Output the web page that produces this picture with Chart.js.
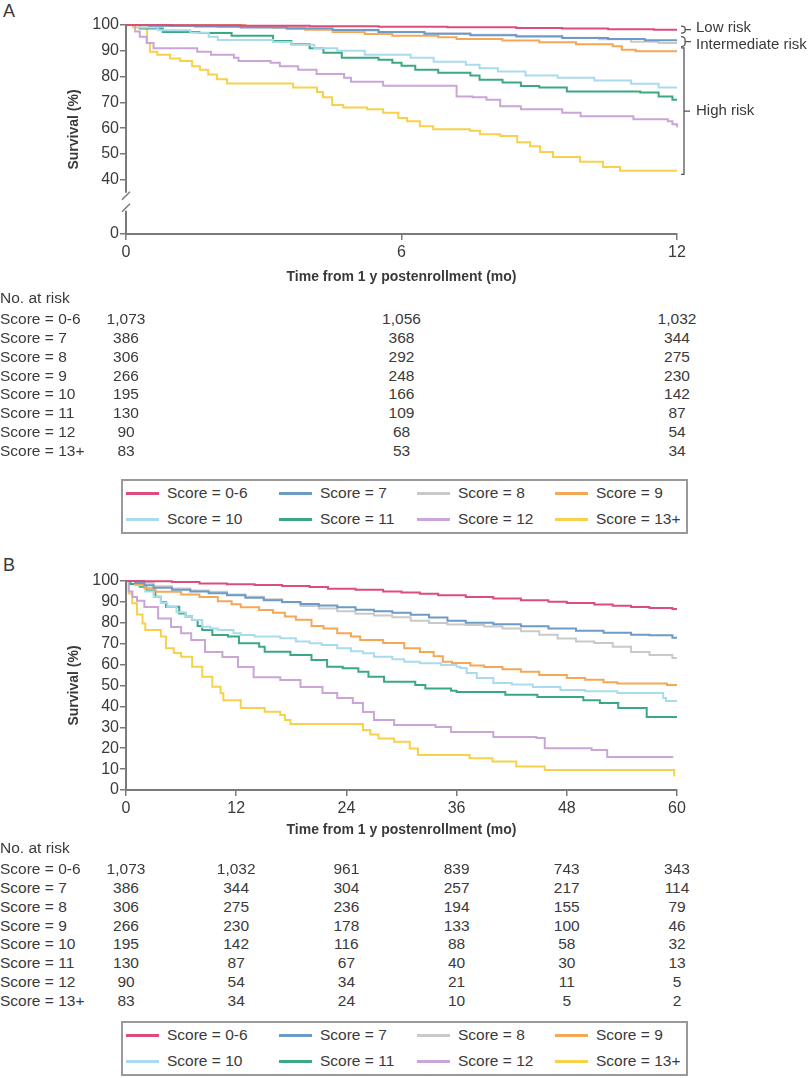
<!DOCTYPE html>
<html>
<head>
<meta charset="utf-8">
<script src="https://cdn.jsdelivr.net/npm/chart.js@4.4.1/dist/chart.umd.min.js"></script>
<style>
  body { margin: 0; width: 812px; height: 1078px; position: relative; background: #fff; overflow: hidden;
         font-family: 'Liberation Sans', Arial, sans-serif; color: #3a3a3a; }
  canvas { position: absolute; left: 0; }
  .tag { position: absolute; left: 3px; font-size: 18px; }
  .txt { position: absolute; font-size: 15.5px; line-height: 18px; white-space: nowrap; }
  .num { transform: translateX(-50%); }
  .legend { position: absolute; left: 121px; width: 563px; height: 51px; border: 2px solid #999; }
  .item { position: absolute; font-size: 15.5px; line-height: 18px; white-space: nowrap; }
  .item i { position: absolute; width: 33px; height: 3px; top: 8px; left: 0; }
  .item span { position: absolute; left: 41px; top: 0; }
</style>
</head>
<body>
<div class="tag" style="top:1px">A</div>
<canvas id="chartA" width="812" height="290" style="top:0"></canvas>
<div id="tableA"></div>
<div id="legendA" class="legend" style="top:479px"></div>

<div class="tag" style="top:555px">B</div>
<canvas id="chartB" width="812" height="296" style="top:550px"></canvas>
<div id="tableB"></div>
<div id="legendB" class="legend" style="top:1021px"></div>

<script>
const FONT = "'Liberation Sans', Arial, sans-serif";
const INK = '#3a3a3a';
const AXIS = '#7a7a7a';

const scoreLabels = ['Score = 0-6', 'Score = 7', 'Score = 8', 'Score = 9',
                     'Score = 10', 'Score = 11', 'Score = 12', 'Score = 13+'];
const scoreColors = ['#dc4d7c', '#6b9bc6', '#c9c9c9', '#f6a755',
                     '#a9dbef', '#3aa982', '#c9a5d8', '#f8d14a'];

// panel A: first year after the 1 y landmark, [month, survival %]
const xTicksA = [0, 6, 12];
const yTicksA = [0, 40, 50, 60, 70, 80, 90, 100];
const yBreakA = 19; // scale value where the "0" label sits under the axis break

const survA_06 = [[0,100],[1,99.9],[2.5,99.7],[4,99.5],[5.5,99.3],[7,99.1],[8.5,98.8],[9.5,98.6],[10.5,98.4],[11.5,98.2],[12,98.2]];
const survA_7 = [[0,100],[0.5,99.7],[1.5,99.4],[2.5,99],[3.5,98.6],[4.5,98.1],[5.5,97.3],[6.5,96.6],[7.5,96],[8.5,95.5],[9.5,95],[10.5,94.6],[11.3,94.1],[12,94.1]];
const survA_8 = [[0,100],[0.7,99.6],[2,99.2],[3.5,98.5],[4.5,97.9],[5.5,97.2],[6.5,96.7],[7.5,96.2],[8.5,95.7],[9.5,95.1],[10.3,94.5],[11,93.5],[11.6,93],[12,93]];
const survA_9 = [[0,100],[2.6,99.6],[3.2,99],[3.9,98.2],[4.5,97.3],[5.2,96.5],[5.8,95.8],[6.8,95.3],[7.2,94.6],[8.2,94],[9,93.3],[9.8,92.5],[10.6,91.8],[10.8,90.4],[11.1,89.8],[12,89.8]];
const survA_10 = [[0,100],[0.3,99],[0.7,98],[1.4,97],[1.8,95.4],[2,94.2],[3.2,93.4],[3.6,92.3],[4.1,91],[4.6,90],[5.2,88.5],[6.2,87.3],[6.7,85.8],[7.4,84.6],[7.7,83.2],[8.1,82],[8.7,80.4],[9.4,79.6],[10.2,78.5],[11,77.2],[11.6,75.8],[12,75.8]];
const survA_11 = [[0,100],[0.3,98.6],[0.8,97.3],[1.6,96.9],[2.3,95.8],[3.2,93.8],[3.6,92.5],[4,91],[4.3,89.2],[4.7,87.3],[5.5,86.5],[5.8,85.4],[6,84.2],[6.3,82.7],[6.8,81.5],[7.5,80.4],[7.7,78.8],[8.2,77.7],[8.6,76.4],[9,75.8],[9.6,74.2],[11.2,73.8],[11.6,72.3],[11.9,71],[12,71]];
const survA_12 = [[0,100],[0.2,97.5],[0.3,95.4],[0.45,93],[0.6,91],[1.55,89.6],[1.85,88.5],[2.35,87.3],[2.45,86],[3.15,85.4],[3.35,84],[3.75,82.7],[4.15,81],[4.75,79.6],[4.9,78],[5.6,76.5],[7.2,72.3],[7.55,72],[7.85,71],[8.15,68.5],[8.6,67.3],[9.5,66],[9.9,64.6],[11.05,63.5],[11.8,62.7],[11.9,61.5],[12,60.4]];
const survA_13 = [[0,100],[0.15,99],[0.46,93],[0.52,89.6],[0.68,88.5],[0.96,87],[1.18,86],[1.44,84],[1.61,82.7],[1.79,80.8],[1.98,79],[2.2,77.3],[3.64,75.8],[4.16,74],[4.29,72],[4.49,69],[4.73,68],[5.25,67.3],[5.6,66],[5.93,64],[6.12,62.7],[6.4,60.8],[6.69,59.6],[7.49,59],[7.71,57.7],[8.15,57],[8.52,54.6],[8.8,53],[9.02,50.8],[9.3,48.8],[9.89,47],[10.39,45],[10.76,43.5],[12,43.5]];
const survA = [survA_06, survA_7, survA_8, survA_9, survA_10, survA_11, survA_12, survA_13];

const riskTimesA = [0, 6, 12];
const riskA_06 = [1073, 1056, 1032];
const riskA_7 = [386, 368, 344];
const riskA_8 = [306, 292, 275];
const riskA_9 = [266, 248, 230];
const riskA_10 = [195, 166, 142];
const riskA_11 = [130, 109, 87];
const riskA_12 = [90, 68, 54];
const riskA_13 = [83, 53, 34];
const riskA = [riskA_06, riskA_7, riskA_8, riskA_9, riskA_10, riskA_11, riskA_12, riskA_13];

// panel B: five years after the 1 y landmark
const xTicksB = [0, 12, 24, 36, 48, 60];
const yTicksB = [0, 10, 20, 30, 40, 50, 60, 70, 80, 90, 100];

const survB_06 = [[0,100],[2,99.9],[5,99.5],[8,98.8],[11,98.4],[14,98.1],[17,97.6],[20,97.1],[22,96.3],[25,95.8],[28,95],[30,94.5],[32,93.9],[34,93.2],[37,92.3],[40,91.6],[43,90.8],[46,90.1],[48,89.5],[51,88.7],[53,88.2],[55,87.6],[57,87.1],[59.5,86.6],[60,86.6]];
const survB_7 = [[0,100],[1,99],[2,98],[3,96.8],[5,95.8],[7,95],[9,94.1],[11,93.2],[13,92],[15,90.8],[17,90],[19,89],[21,88.3],[23,87.4],[25,86.3],[27,85.5],[29,84.8],[31,83.8],[33,82.5],[35,81],[37,80],[40,79.3],[43,78.4],[46,77.3],[49,76.2],[52,75.2],[55,74.3],[57,74],[59.5,72.8],[60,72.8]];
const survB_8 = [[0,100],[1,99.2],[3,97.5],[5,96.4],[7,95.5],[9,94.8],[11,93.5],[13,92.5],[15,91.3],[17,89.8],[19,88],[21,86.8],[23,85.5],[25,84.3],[27,83.5],[29,82.7],[31,81],[33,79.9],[35,79.2],[37,79],[39,78.2],[41,77.3],[43,76],[45,74.3],[47,72.5],[49,71],[51,70.3],[53,68.5],[55,66],[57,64.6],[59.5,63.2],[60,63.2]];
const survB_9 = [[0,100],[1,98.5],[2,96.5],[3.2,94.8],[6,93.5],[8,92.3],[10,90.3],[11.5,88.9],[12.5,87.5],[14.5,86.1],[16,84.8],[17.3,83],[18.5,81.5],[20.2,78.5],[21.5,77.3],[23,75],[24.5,73.4],[25.5,71.8],[28,70.3],[30.3,67.8],[32,66],[33.5,64],[34.5,61.4],[35.5,60.8],[37.5,59.6],[39,58.9],[41,57.8],[43,56.6],[45,55],[48,53.6],[50,52.8],[52,51.6],[53.5,51],[58.9,50.2],[60,50.2]];
const survB_10 = [[0,100],[1,98],[2.1,95],[3,92.5],[3.8,89.5],[4.5,87.7],[5.5,85],[6.5,83],[7.2,81.3],[8.3,78.1],[9.2,77.3],[10,76.6],[11.7,75],[12.5,74.2],[14,73.4],[16.8,72.6],[18.5,71],[20,70.2],[21.3,69.4],[23,67.8],[24.5,66.4],[25.8,65.4],[27,63.8],[29,62.6],[30.3,61.4],[32,60.6],[34.3,59.8],[36,59],[36.4,58.4],[37.1,56],[38.2,53.6],[40,51.2],[42,50.5],[44.3,49.3],[47.3,47.8],[50,47.2],[53.5,46.4],[58.5,44],[58.8,42.6],[60,42.6]];
const survB_11 = [[0,100],[0.5,98.6],[1.5,97.3],[2.2,95.5],[3.2,92.5],[3.8,89.8],[4.35,87.7],[5.8,84.5],[6.5,83],[7.2,81.3],[7.8,78.5],[8.3,76.6],[9.4,74.2],[11.1,73.4],[12.3,70.2],[14.5,68.6],[15.1,66.2],[17.9,64.6],[20.2,62.2],[21.9,59],[23.6,58.2],[25.3,56.6],[26.4,54.2],[28.1,51.8],[31.5,50.2],[32.6,48.6],[35.4,47.5],[36,46.9],[41.3,45.6],[44.8,44.5],[49.8,43],[51.6,41.6],[53.6,39.2],[56.7,34.9],[60,34.9]];
const survB_12 = [[0,100],[0.3,95],[0.7,92.3],[1.2,90.5],[2,87.6],[3.5,82],[4.9,78],[6,75],[7.1,71.8],[8.6,66],[10.5,63.6],[12.2,58.9],[13.9,54],[16.8,52.6],[19,49.3],[21.4,46.4],[23,44],[24.7,41.6],[25.8,37.3],[27,33.5],[29.2,31.1],[33.7,30.1],[35.4,27.8],[40,25.4],[44.7,24.9],[45.6,20],[50.7,19.1],[52.4,15.8],[59.6,15.8]];
const survB_13 = [[0,100],[0.3,94],[0.68,89.3],[1.2,84],[1.8,79.7],[2.1,76.6],[3.8,73.4],[4.35,67.8],[5.2,65.5],[6,63.8],[7.2,59],[8.3,54.2],[9.4,49.4],[10.3,46.3],[10.6,43],[12.5,39.2],[15.1,37.5],[16.8,35.9],[17.3,33.5],[17.9,31.6],[25.8,28.7],[26.6,26.5],[27.5,24.7],[29.2,23.1],[30.9,19.9],[31.8,16.7],[37.4,15.2],[39.9,13.6],[42.5,11.2],[45.6,9.6],[59.4,9.6],[59.7,6.4]];
const survB = [survB_06, survB_7, survB_8, survB_9, survB_10, survB_11, survB_12, survB_13];

const riskTimesB = [0, 12, 24, 36, 48, 60];
const riskB_06 = [1073, 1032, 961, 839, 743, 343];
const riskB_7 = [386, 344, 304, 257, 217, 114];
const riskB_8 = [306, 275, 236, 194, 155, 79];
const riskB_9 = [266, 230, 178, 133, 100, 46];
const riskB_10 = [195, 142, 116, 88, 58, 32];
const riskB_11 = [130, 87, 67, 40, 30, 13];
const riskB_12 = [90, 54, 34, 21, 11, 5];
const riskB_13 = [83, 34, 24, 10, 5, 2];
const riskB = [riskB_06, riskB_7, riskB_8, riskB_9, riskB_10, riskB_11, riskB_12, riskB_13];

const riskGroups = [
  { label: 'Low risk', members: [0], dy: -2 },
  { label: 'Intermediate risk', members: [1, 2], dy: 3 },
  { label: 'High risk', members: [3, 4, 5, 6, 7], dy: 0 }
];

const datasetsFor = (series) => series.map((s, i) => ({
  label: scoreLabels[i],
  data: s.map(([x, y]) => ({ x, y })),
  borderColor: scoreColors[i],
  borderWidth: 2,
  stepped: true,
  pointRadius: 0,
  fill: false,
  clip: 6
}));

const tickFont = { family: FONT, size: 16 };
const titleFont = { family: FONT, size: 14, weight: 'bold' };

function xScale(ticks, titlePad) {
  return {
    type: 'linear', min: ticks[0], max: ticks[ticks.length - 1],
    afterBuildTicks: s => { s.ticks = ticks.map(v => ({ value: v })); },
    afterFit: s => { s.height = 56; },
    grid: { drawOnChartArea: false, drawTicks: true, tickLength: 6, color: AXIS, lineWidth: 1.5 },
    border: { display: true, color: AXIS, width: 2 },
    ticks: { color: INK, font: tickFont, padding: 3, maxRotation: 0, autoSkip: false },
    title: { display: true, text: 'Time from 1 y postenrollment (mo)', color: INK, font: titleFont,
             padding: { top: 4, bottom: titlePad } }
  };
}

function yScale(ticks, min, labelOf) {
  return {
    min, max: 100,
    afterBuildTicks: s => { s.ticks = ticks.map(v => ({ value: v })); },
    afterFit: s => { s.width = 64; },
    grid: { drawOnChartArea: false, drawTicks: true, tickLength: 6, color: AXIS, lineWidth: 1.5 },
    border: { display: true, color: AXIS, width: 2 },
    ticks: { color: INK, font: tickFont, padding: 1, autoSkip: false, callback: labelOf },
    title: { display: true, text: 'Survival (%)', color: INK, font: titleFont }
  };
}

// "//" break on the y axis of panel A
const axisBreak = {
  id: 'axisBreak',
  afterDraw(chart) {
    const { ctx, chartArea, scales: { y } } = chart;
    const x = chartArea.left;
    const yc = y.getPixelForValue(31.5);
    ctx.save();
    ctx.fillStyle = '#fff';
    ctx.fillRect(x - 3, yc - 9, 6, 18);
    ctx.strokeStyle = AXIS;
    ctx.lineWidth = 1.5;
    ctx.beginPath();
    ctx.moveTo(x - 4, yc - 2); ctx.lineTo(x + 4, yc - 10);
    ctx.moveTo(x - 4, yc + 10); ctx.lineTo(x + 4, yc + 2);
    ctx.stroke();
    ctx.restore();
  }
};

// brackets grouping the curve ends in panel A
const riskBrackets = {
  id: 'riskBrackets',
  afterDraw(chart) {
    const { ctx, chartArea, scales: { y } } = chart;
    const x0 = chartArea.right + 4;
    ctx.save();
    ctx.strokeStyle = '#555';
    ctx.lineWidth = 1.3;
    ctx.fillStyle = INK;
    ctx.font = `15px ${FONT}`;
    ctx.textBaseline = 'middle';
    riskGroups.forEach(g => {
      const ends = g.members.map(i => survA[i][survA[i].length - 1][1]);
      const top = y.getPixelForValue(Math.max(...ends)) - 3.5;
      const bot = y.getPixelForValue(Math.min(...ends)) + 3.5;
      const mid = (top + bot) / 2;
      ctx.beginPath();
      if (bot - top < 20) {
        ctx.moveTo(x0, top);
        ctx.quadraticCurveTo(x0 + 5, top, x0 + 4, mid);
        ctx.quadraticCurveTo(x0 + 5, bot, x0, bot);
        ctx.moveTo(x0 + 4, mid); ctx.lineTo(x0 + 10, mid);
      } else {
        ctx.moveTo(x0, top); ctx.lineTo(x0 + 3, top); ctx.lineTo(x0 + 3, bot); ctx.lineTo(x0, bot);
        ctx.moveTo(x0 + 3, mid); ctx.lineTo(x0 + 9, mid);
      }
      ctx.stroke();
      ctx.fillText(g.label, x0 + 15, mid + g.dy);
    });
    ctx.restore();
  }
};

const chartA = new Chart(document.getElementById('chartA'), {
  type: 'line',
  data: { datasets: datasetsFor(survA) },
  options: {
    responsive: false, animation: false,
    layout: { padding: { left: 62, right: 135, top: 25, bottom: 0 } },
    plugins: { legend: { display: false }, tooltip: { enabled: false } },
    scales: {
      x: xScale(xTicksA, 4),
      y: yScale(yTicksA.map(v => v === 0 ? yBreakA : v), yBreakA, v => v === yBreakA ? '0' : v)
    }
  },
  plugins: [axisBreak, riskBrackets]
});

const chartB = new Chart(document.getElementById('chartB'), {
  type: 'line',
  data: { datasets: datasetsFor(survB) },
  options: {
    responsive: false, animation: false,
    layout: { padding: { left: 62, right: 135, top: 31, bottom: 0 } },
    plugins: { legend: { display: false }, tooltip: { enabled: false } },
    scales: {
      x: xScale(xTicksB, 7),
      y: yScale(yTicksB, 0, v => v)
    }
  }
});

function riskTable(el, chart, times, rows, top) {
  const x = chart.scales.x;
  let html = `<div class="txt" style="left:0;top:${top - 9}px">No. at risk</div>`;
  rows.forEach((row, i) => {
    const cy = top + 21 + i * 18.85;
    html += `<div class="txt" style="left:0;top:${cy - 9}px">${scoreLabels[i]}</div>`;
    row.forEach((n, j) => {
      html += `<div class="txt num" style="left:${x.getPixelForValue(times[j])}px;top:${cy - 9}px">${n.toLocaleString('en-US')}</div>`;
    });
  });
  el.innerHTML = html;
}

function legend(el) {
  const cols = [3, 156, 294, 432];
  el.innerHTML = scoreLabels.map((label, i) =>
    `<div class="item" style="left:${cols[i % 4]}px;top:${i < 4 ? 3 : 29}px">` +
    `<i style="background:${scoreColors[i]}"></i><span>${label}</span></div>`).join('');
}

riskTable(document.getElementById('tableA'), chartA, riskTimesA, riskA, 298);
riskTable(document.getElementById('tableB'), chartB, riskTimesB, riskB, 848);
legend(document.getElementById('legendA'));
legend(document.getElementById('legendB'));
</script>
</body>
</html>
